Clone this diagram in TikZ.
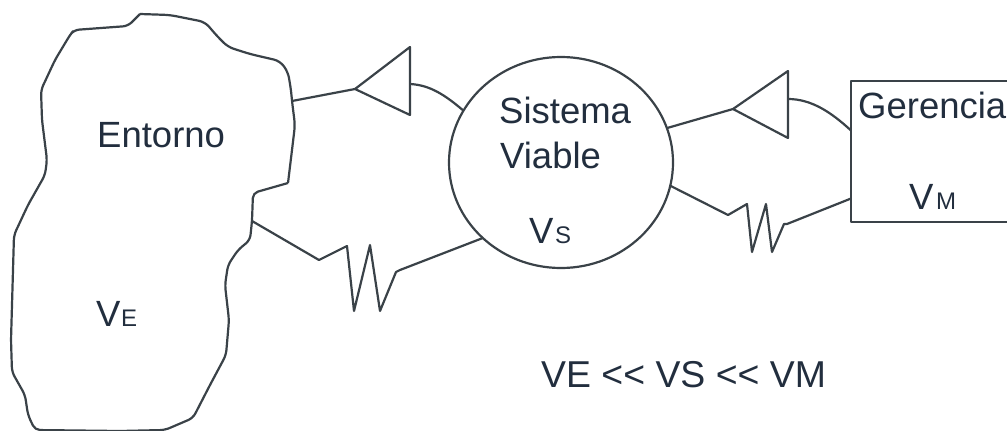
\documentclass[tikz,border=0pt]{standalone}
\usepackage{fontspec}
\setmainfont{Liberation Sans}
\usepackage{xcolor}
\usetikzlibrary{shapes.geometric}
\definecolor{tinta}{HTML}{222E3E}
\definecolor{linea}{HTML}{3A4248}

\begin{document}
\begin{tikzpicture}[x=1pt,y=-1pt]
		\tikzstyle{linea_fina}=[line width=2.2pt,draw=linea,line join=round]
		\tikzstyle{sistema}=[linea_fina,ellipse,minimum width=224pt,minimum height=211pt,outer sep=0pt]
		\tikzstyle{caja}=[linea_fina,minimum width=170pt,minimum height=141pt,outer sep=0pt]
		\tikzstyle{texto}=[text=tinta,inner sep=0pt,anchor=base west,font=\fontsize{36.5}{36.5}\selectfont]
		\tikzstyle{texto_sub}=[texto,font=\fontsize{24}{24}\selectfont]
		\tikzstyle{texto_rel}=[texto,font=\fontsize{37.4}{37.4}\selectfont]

		\useasboundingbox (0,0) rectangle (1007,431);

		% entorno
		\draw [linea_fina,rounded corners=6pt] (140,14) -- (170,15) -- (205,22) -- (217,36) -- (228,47) -- (250,54) -- (280,61) -- (288,72) -- (291,90)
			-- (292,101) coordinate (ent_sal) -- (295,125) -- (292,150) -- (288,183);
		\draw [linea_fina,rounded corners=5pt] (288,183) -- (253,193) -- (252,221) coordinate (ent_ent) -- (250,240) -- (238,250) -- (228,265) -- (225,285) -- (229,320) -- (226,355) -- (210,385) -- (193,418) -- (165,430) -- (120,431) -- (35,430) -- (28,415) -- (25,395) -- (12,372) -- (11,340) -- (14,235) -- (28,205) -- (45,175) -- (47,160) -- (42,120) -- (41,90) -- (55,60) -- (70,35) -- (74,30) -- (128,26) -- (140,14);

		\node (sis) [sistema] at (561,162.5) {};
		\node (ger) [caja] at (936,151.5) {};

		\node (t_ent) [texto] at (97,147) {Entorno};
		\node (t_ve) [texto] at (96,326) {V};
		\node (t_e) [texto_sub] at (121,326) {E};
		\node (t_sis) [texto] at (499,123) {Sistema};
		\node (t_via) [texto] at (500,168) {Viable};
		\node (t_vs) [texto] at (529,243) {V};
		\node (t_s) [texto_sub] at (555,243) {S};
		\node (t_ger) [texto] at (858,118) {Gerencia};
		\node (t_vm) [texto] at (909,209) {V};
		\node (t_m) [texto_sub] at (936,209) {M};
		\node (t_rel) [texto_rel] at (541,387) {VE <{}< VS <{}< VM};

		% amplificadores
		\coordinate (amp1) at (355,89);
		\coordinate (amp1_a) at (410,47);
		\coordinate (amp1_b) at (410,115);
		\coordinate (amp1_s) at (410,84);
		\coordinate (amp2) at (733,109);
		\coordinate (amp2_a) at (788,71);
		\coordinate (amp2_b) at (788,138);
		\coordinate (amp2_s) at (788,99);

		\draw [linea_fina] (amp1) -- (amp1_a) -- (amp1_b) -- cycle;
		\draw [linea_fina] (amp2) -- (amp2_a) -- (amp2_b) -- cycle;
		\draw [linea_fina] (ent_sal) -- (amp1);
		\draw [linea_fina] (amp1_s) .. controls (430,85) and (445,95) .. (sis.152);
		\draw [linea_fina] (sis.18) -- (amp2);
		\draw [linea_fina] (amp2_s) .. controls (812,99) and (832,113) .. ([yshift=21pt]ger.west);

		% atenuadores
		\draw [linea_fina] (ent_ent) -- (319,260) -- (347,246) -- (354,311) -- (370,245) -- (380,311) -- (396,272) -- (400,270) -- (sis.224);
		\draw [linea_fina] (sis.348) -- (728,215) -- (747,204) -- (752,252) -- (766,204) -- (772,252) -- (784,224) -- (787,224) -- ([yshift=-47pt]ger.west);
	\end{tikzpicture}
\end{document}
